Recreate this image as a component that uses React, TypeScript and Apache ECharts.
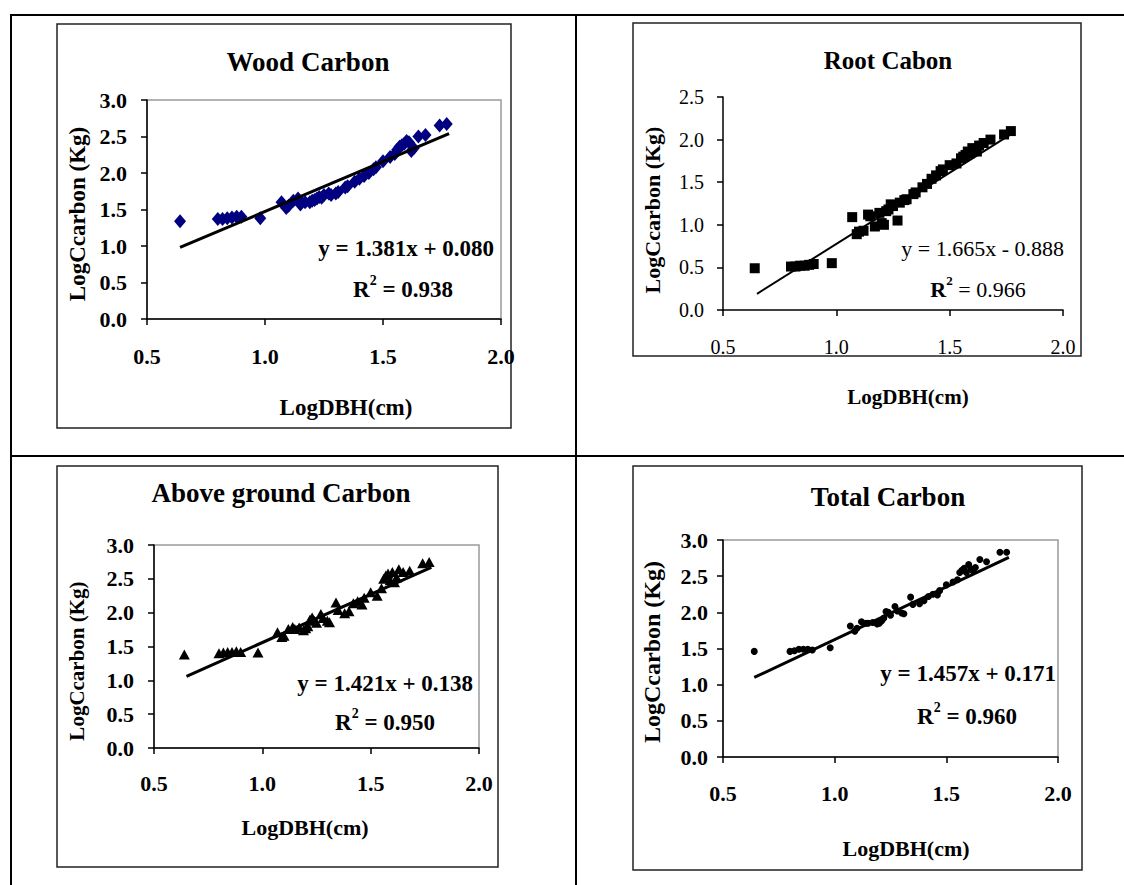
import React, { useEffect, useRef } from "react";
import * as echarts from "echarts";

// Shared x values (LogDBH, cm)
const logDBH = [0.64, 0.80, 0.82, 0.84, 0.86, 0.88, 0.90, 0.98, 1.07, 1.09, 1.10, 1.12, 1.14, 1.15, 1.17, 1.19, 1.20, 1.21, 1.22, 1.23, 1.24, 1.25, 1.27, 1.28, 1.30, 1.31, 1.34, 1.35, 1.38, 1.40, 1.42, 1.44, 1.46, 1.47, 1.50, 1.53, 1.55, 1.56, 1.57, 1.58, 1.59, 1.60, 1.61, 1.62, 1.63, 1.65, 1.68, 1.74, 1.77];

const woodCarbon = [1.34, 1.37, 1.37, 1.38, 1.39, 1.40, 1.40, 1.38, 1.60, 1.52, 1.55, 1.62, 1.65, 1.57, 1.60, 1.60, 1.62, 1.63, 1.65, 1.67, 1.66, 1.70, 1.72, 1.70, 1.72, 1.74, 1.80, 1.82, 1.88, 1.92, 1.96, 2.00, 2.05, 2.08, 2.16, 2.22, 2.26, 2.32, 2.36, 2.38, 2.40, 2.44, 2.42, 2.30, 2.34, 2.50, 2.52, 2.65, 2.67];

const rootCarbon = [0.49, 0.51, 0.51, 0.52, 0.52, 0.53, 0.54, 0.55, 1.09, 0.89, 0.92, 0.93, 1.12, 1.10, 0.98, 1.14, 1.02, 1.00, 1.16, 1.18, 1.24, 1.22, 1.05, 1.26, 1.29, 1.30, 1.36, 1.38, 1.44, 1.48, 1.54, 1.58, 1.63, 1.65, 1.70, 1.72, 1.78, 1.80, 1.82, 1.86, 1.84, 1.90, 1.88, 1.86, 1.93, 1.96, 2.00, 2.06, 2.10];

const aboveCarbon = [1.38, 1.40, 1.41, 1.42, 1.42, 1.43, 1.42, 1.41, 1.71, 1.64, 1.66, 1.76, 1.79, 1.76, 1.78, 1.74, 1.77, 1.80, 1.90, 1.93, 1.88, 1.85, 1.98, 1.92, 1.88, 1.86, 2.15, 2.04, 1.99, 2.02, 2.14, 2.17, 2.12, 2.22, 2.30, 2.25, 2.36, 2.50, 2.55, 2.58, 2.48, 2.60, 2.45, 2.52, 2.64, 2.60, 2.62, 2.73, 2.75];

const totalCarbon = [1.46, 1.46, 1.47, 1.49, 1.49, 1.49, 1.48, 1.51, 1.81, 1.74, 1.78, 1.87, 1.85, 1.85, 1.86, 1.84, 1.85, 1.88, 1.92, 2.01, 2.00, 1.96, 2.08, 2.02, 1.99, 1.98, 2.21, 2.11, 2.12, 2.16, 2.22, 2.25, 2.24, 2.30, 2.38, 2.42, 2.45, 2.55, 2.58, 2.61, 2.55, 2.66, 2.60, 2.57, 2.62, 2.73, 2.70, 2.83, 2.83];

// Linear trend line end points (as drawn)
const woodTrend = [[0.64, 0.98], [1.78, 2.54]];
const rootTrend = [[0.65, 0.19], [1.78, 2.08]];
const aboveTrend = [[0.65, 1.06], [1.78, 2.67]];
const totalTrend = [[0.64, 1.10], [1.78, 2.76]];

const titles = ["Wood Carbon", "Root Cabon", "Above ground Carbon", "Total Carbon"];
const equations = ["y = 1.381x + 0.080", "y = 1.665x - 0.888", "y = 1.421x + 0.138", "y = 1.457x + 0.171"];
const rSquared = ["0.938", "0.966", "0.950", "0.960"];
const yAxisMax = [3.0, 2.5, 3.0, 3.0];
const yName = "LogCcarbon (Kg)";
const xName = "LogDBH(cm)";

const FONT = "'Liberation Serif', 'Times New Roman', Times, serif";

export default function App() {
  const ref = useRef<HTMLDivElement>(null);

  useEffect(() => {
    if (!ref.current) return;
    const chart = echarts.init(ref.current, undefined, { renderer: "svg" });

    const grids = [
      { left: 147, top: 100, width: 354, height: 219, show: true, borderColor: "#9a9a9a", borderWidth: 1.5 },
      { left: 723, top: 97, width: 340, height: 213, show: false },
      { left: 154, top: 545, width: 325, height: 203, show: true, borderColor: "#9a9a9a", borderWidth: 1.5 },
      { left: 723, top: 540, width: 335, height: 217, show: true, borderColor: "#9a9a9a", borderWidth: 1.5 },
    ];

    const bold = [true, false, true, true];
    const tickFont = [22, 20, 22, 22];
    const xMargin = [26, 27, 24, 25];
    const yMargin = [20, 19, 20, 15];

    const xAxes = grids.map((_, i) => ({
      gridIndex: i,
      type: "value",
      min: 0.5,
      max: 2.0,
      interval: 0.5,
      axisLine: { show: true, onZero: false, lineStyle: { color: "#000", width: 1.5 } },
      axisTick: { show: true, length: 6, lineStyle: { color: "#000", width: 1.5 } },
      splitLine: { show: false },
      axisLabel: {
        formatter: (v: number) => v.toFixed(1),
        margin: xMargin[i],
        color: "#000",
        fontSize: tickFont[i],
        fontWeight: bold[i] ? "bold" : "normal",
        fontFamily: FONT,
        showMinLabel: true,
        showMaxLabel: true,
      },
    }));

    const yAxes = grids.map((_, i) => ({
      gridIndex: i,
      type: "value",
      min: 0,
      max: yAxisMax[i],
      interval: 0.5,
      axisLine: { show: true, onZero: false, lineStyle: { color: "#000", width: 1.5 } },
      axisTick: { show: true, length: 6, lineStyle: { color: "#000", width: 1.5 } },
      splitLine: { show: false },
      axisLabel: {
        formatter: (v: number) => v.toFixed(1),
        margin: yMargin[i],
        color: "#000",
        fontSize: tickFont[i],
        fontWeight: bold[i] ? "bold" : "normal",
        fontFamily: FONT,
        showMinLabel: true,
        showMaxLabel: true,
      },
    }));

    const scatterDefs = [
      { ys: woodCarbon, symbol: "diamond", size: [12, 14], color: "#000080" },
      { ys: rootCarbon, symbol: "rect", size: 10, color: "#000" },
      { ys: aboveCarbon, symbol: "triangle", size: [11, 10], color: "#000" },
      { ys: totalCarbon, symbol: "circle", size: 7, color: "#000" },
    ];
    const trends = [woodTrend, rootTrend, aboveTrend, totalTrend];
    const trendWidth = [3, 2, 3, 3];

    const series: any[] = [];
    scatterDefs.forEach((d, i) => {
      series.push({
        type: "scatter",
        xAxisIndex: i,
        yAxisIndex: i,
        data: logDBH.map((x, k) => [x, d.ys[k]]),
        symbol: d.symbol,
        symbolSize: d.size,
        itemStyle: { color: d.color, opacity: 1 },
        z: 2,
      });
      series.push({
        type: "line",
        xAxisIndex: i,
        yAxisIndex: i,
        data: trends[i],
        symbol: "none",
        lineStyle: { color: "#000", width: trendWidth[i] },
        z: 3,
      });
    });

    const txt = (
      text: string,
      x: number,
      y: number,
      size: number,
      weight: string,
      align = "center",
      rotate = false
    ) => ({
      type: "text",
      x,
      y,
      rotation: rotate ? Math.PI / 2 : 0,
      z: 10,
      style: {
        text,
        x: 0,
        y: 0,
        align,
        verticalAlign: "middle",
        fontSize: size,
        fontWeight: weight,
        fontFamily: FONT,
        fill: "#000",
      },
    });

    const rText = (r: string, x: number, y: number, size: number, allBold: boolean) => ({
      type: "text",
      x,
      y,
      z: 10,
      style: {
        text: `{r|R}{s|2}{n| = ${r}}`,
        x: 0,
        y: 0,
        align: "center",
        verticalAlign: "middle",
        fontFamily: FONT,
        fill: "#000",
        rich: {
          r: { fontSize: size, fontWeight: "bold", fontFamily: FONT, fill: "#000", lineHeight: size + 4, verticalAlign: "bottom" },
          s: { fontSize: Math.round(size * 0.6), fontWeight: "bold", fontFamily: FONT, fill: "#000", lineHeight: size + 4, verticalAlign: "top" },
          n: { fontSize: size, fontWeight: allBold ? "bold" : "normal", fontFamily: FONT, fill: "#000", lineHeight: size + 4, verticalAlign: "bottom" },
        },
      },
    });

    const line = (x1: number, y1: number, x2: number, y2: number, w: number) => ({
      type: "line",
      shape: { x1, y1, x2, y2 },
      style: { stroke: "#000", lineWidth: w },
      z: 0,
    });

    const box = (x: number, y: number, w: number, h: number) => ({
      type: "rect",
      shape: { x, y, width: w, height: h },
      style: { fill: "none", stroke: "#222", lineWidth: 1.5 },
      z: 0,
    });

    const graphic: any[] = [
      // table grid lines
      line(10, 15, 1124, 15, 2),
      line(11, 14, 11, 885, 2),
      line(576, 15, 576, 885, 2),
      line(11, 456, 1124, 456, 2),
      // chart boxes
      box(57, 24, 454, 404),
      box(633, 23, 448, 333),
      box(57, 466, 441, 401),
      box(633, 466, 449, 404),
      // Wood
      txt(titles[0], 308, 62, 27, "bold"),
      txt(yName, 77, 214, 23, "bold", "center", true),
      txt(xName, 346, 407, 23, "bold"),
      txt(equations[0], 494, 248, 23, "bold", "right"),
      rText(rSquared[0], 403, 287, 23, true),
      // Root
      txt(titles[1], 888, 60, 25, "bold"),
      txt(yName, 652, 210, 22, "bold", "center", true),
      txt(xName, 908, 397, 21, "bold"),
      txt(equations[1], 1064, 248, 22, "normal", "right"),
      rText(rSquared[1], 978, 287, 22, false),
      // Above
      txt(titles[2], 281, 493, 27, "bold"),
      txt(yName, 77, 661, 21, "bold", "center", true),
      txt(xName, 305, 827, 22, "bold"),
      txt(equations[2], 473, 683, 23, "bold", "right"),
      rText(rSquared[2], 385, 720, 23, true),
      // Total
      txt(titles[3], 888, 497, 27, "bold"),
      txt(yName, 652, 652, 24, "bold", "center", true),
      txt(xName, 906, 848, 22, "bold"),
      txt(equations[3], 1056, 673, 23, "bold", "right"),
      rText(rSquared[3], 967, 714, 23, true),
    ];

    chart.setOption({
      animation: false,
      backgroundColor: "#fff",
      grid: grids,
      xAxis: xAxes,
      yAxis: yAxes,
      series,
      graphic,
    });

    return () => chart.dispose();
  }, []);

  return (
    <div
      ref={ref}
      style={{ position: "absolute", left: 0, top: 0, width: 1124, height: 885, background: "#fff" }}
    />
  );
}
